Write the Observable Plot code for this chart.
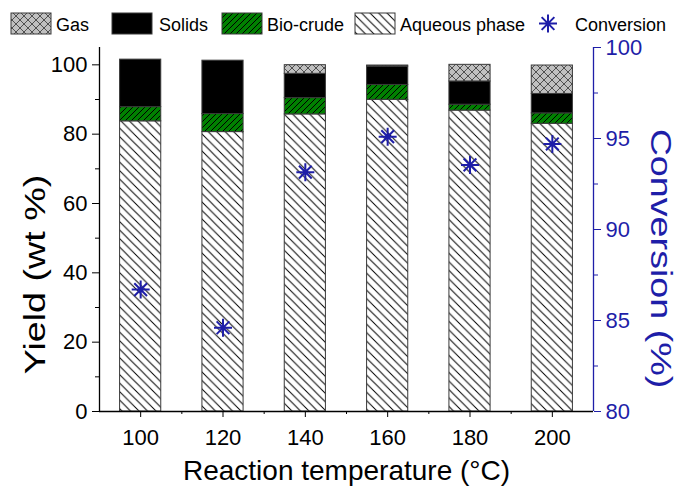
<!DOCTYPE html>
<html>
<head>
<meta charset="utf-8">
<script src="https://cdn.jsdelivr.net/npm/d3@7"></script>
<script src="https://cdn.jsdelivr.net/npm/@observablehq/plot@0.6"></script>
<style>
  body { margin: 0; background: #fff; }
  #chart { position: relative; width: 681px; height: 493px; }
</style>
</head>
<body>
<svg width="0" height="0" style="position:absolute">
  <defs>
    <pattern id="pAq" patternUnits="userSpaceOnUse" width="8.5" height="8.5">
      <rect width="8.5" height="8.5" fill="#fff"/>
      <path d="M-1,-1 L9.5,9.5 M-3,5.5 L3,11.5 M5.5,-3 L11.5,3" stroke="#000" stroke-width="1"/>
    </pattern>
    <pattern id="pBio" patternUnits="userSpaceOnUse" width="6" height="6">
      <rect width="6" height="6" fill="#008000"/>
      <path d="M-1,7 L7,-1 M-3,3 L3,-3 M3,9 L9,3" stroke="#000" stroke-width="1"/>
    </pattern>
    <pattern id="pGas" patternUnits="userSpaceOnUse" width="8" height="8">
      <rect width="8" height="8" fill="#c0c0c0"/>
      <path d="M-1,-1 L9,9 M-1,9 L9,-1" stroke="#333" stroke-width="0.8"/>
    </pattern>
  </defs>
</svg>
<div id="chart"></div>
<script>
const temps = [100, 120, 140, 160, 180, 200];
const aqueous = [83.7, 80.6, 85.7, 89.9, 86.8, 83.0];
const bioCrude = [4.1, 5.2, 4.7, 4.3, 1.7, 3.0];
const solids = [13.7, 15.4, 7.0, 5.3, 6.7, 5.6];
const gas = [0, 0, 2.5, 0.3, 4.8, 8.2];
const conversion = [86.7, 84.6, 93.15, 95.1, 93.55, 94.7];
const xTicks = [100, 120, 140, 160, 180, 200];
const xMinor = [110, 130, 150, 170, 190];
const yTicks = [0, 20, 40, 60, 80, 100];
const yMinor = [10, 30, 50, 70, 90];
const convTicks = [80, 85, 90, 95, 100];
const convMinor = [82.5, 87.5, 92.5, 97.5];

const seriesNames = ["Aqueous phase", "Bio-crude", "Solids", "Gas"];
const seriesValues = [aqueous, bioCrude, solids, gas];
const seriesFill = ["url(#pAq)", "url(#pBio)", "#000000", "url(#pGas)"];

const Y_MAX = 105;
const convToY = c => (c - 80) / 20 * Y_MAX;
const yToConv = y => 80 + y / Y_MAX * 20;
const BLUE = "#1e1ea8";

const rows = [];
temps.forEach((t, i) => {
  let acc = 0;
  seriesValues.forEach((vals, s) => {
    rows.push({temp: t, series: s, y1: acc, y2: acc + vals[i]});
    acc += vals[i];
  });
});
const convRows = temps.map((t, i) => ({temp: t, c: conversion[i]}));

const starSymbol = {
  draw(ctx, size) {
    const r = Math.sqrt(size / Math.PI);
    for (let k = 0; k < 4; k++) {
      const a = k * Math.PI / 4;
      const dx = r * Math.cos(a), dy = r * Math.sin(a);
      ctx.moveTo(-dx, -dy);
      ctx.lineTo(dx, dy);
    }
  }
};

const FONT = "'Liberation Sans', Arial, sans-serif";

const barMarks = seriesNames.map((name, s) =>
  Plot.rect(rows.filter(d => d.series === s && d.y2 > d.y1), {
    x1: d => d.temp - 5, x2: d => d.temp + 5, y1: "y1", y2: "y2",
    fill: seriesFill[s], stroke: "#3a3a3a", strokeWidth: 1
  })
);

const chart = Plot.plot({
  width: 681, height: 493,
  marginLeft: 99, marginRight: 88, marginTop: 47, marginBottom: 82,
  style: {fontFamily: FONT, background: "#fff", color: "#000", overflow: "visible"},
  x: {type: "linear", domain: [90, 210]},
  y: {domain: [0, Y_MAX]},
  marks: [
    ...barMarks,
    Plot.dot(convRows, {x: "temp", y: d => convToY(d.c), symbol: starSymbol, r: 9, stroke: BLUE, strokeWidth: 2, fill: "none"}),
    Plot.ruleX([90], {stroke: "#000", strokeWidth: 1.3}),
    Plot.ruleY([0], {stroke: "#000", strokeWidth: 1.3}),
    Plot.ruleX([210], {stroke: BLUE, strokeWidth: 1.3}),
    Plot.axisX(xTicks, {tickSize: 6, tickPadding: 12, fontSize: 22, label: null, stroke: "#000", fill: "#000"}),
    Plot.axisX(xMinor, {tickSize: 3, fill: "none", label: null}),
    Plot.axisY(yTicks, {tickSize: 7, tickPadding: 5, fontSize: 22, label: null}),
    Plot.axisY(yMinor, {tickSize: 4, fill: "none", label: null}),
    Plot.axisY(convTicks.map(convToY), {anchor: "right", tickSize: 7, tickPadding: 5, fontSize: 22, label: null,
      tickFormat: v => String(Math.round(yToConv(v))), stroke: BLUE, fill: BLUE}),
    Plot.axisY(convMinor.map(convToY), {anchor: "right", tickSize: 4, fill: "none", label: null, stroke: BLUE}),
    Plot.text(["Yield (wt %)"], {frameAnchor: "left", textAnchor: "middle", lineAnchor: "middle", dx: -64, dy: 45, rotate: -90, fontSize: 29, fill: "#000"}),
    Plot.text(["Conversion (%)"], {frameAnchor: "right", textAnchor: "middle", lineAnchor: "middle", dx: 67, dy: 29, rotate: 90, fontSize: 29, fill: BLUE}),
    Plot.text(["Reaction temperature (°C)"], {frameAnchor: "bottom", textAnchor: "middle", lineAnchor: "middle", dy: 60, fontSize: 28, fill: "#000"})
  ]
});

document.getElementById("chart").appendChild(chart);

// stretch the rotated axis titles along their length (reference uses elongated vertical titles)
const svg = d3.select(chart);
svg.selectAll("text")
  .filter(function() { return this.textContent === "Yield (wt %)" || this.textContent === "Conversion (%)"; })
  .each(function() {
    const t = this.getAttribute("transform") || "";
    this.setAttribute("transform", t + " scale(1.3,1)");
  });

// legend (top margin)
const lg = svg.append("g").attr("font-family", FONT).attr("font-size", 18).attr("text-anchor", "start");
const legendItems = [
  {label: "Gas", fill: "url(#pGas)", x: 11, tx: 56},
  {label: "Solids", fill: "#000", x: 112, tx: 159},
  {label: "Bio-crude", fill: "url(#pBio)", x: 222, tx: 267},
  {label: "Aqueous phase", fill: "url(#pAq)", x: 355, tx: 400}
];
legendItems.forEach(it => {
  lg.append("rect").attr("x", it.x).attr("y", 13).attr("width", 40).attr("height", 21)
    .attr("fill", it.fill).attr("stroke", "#3a3a3a").attr("stroke-width", 1);
  lg.append("text").attr("x", it.tx).attr("y", 30.5).text(it.label).attr("fill", "#000");
});
const sx = 548, sy = 23.5, sr = 9;
let dpath = "";
for (let k = 0; k < 4; k++) {
  const a = k * Math.PI / 4;
  const dx = sr * Math.cos(a), dy = sr * Math.sin(a);
  dpath += `M${sx - dx},${sy - dy}L${sx + dx},${sy + dy}`;
}
lg.append("path").attr("d", dpath).attr("stroke", BLUE).attr("stroke-width", 2).attr("fill", "none");
lg.append("text").attr("x", 575).attr("y", 30.5).text("Conversion").attr("fill", "#000");
</script>
</body>
</html>
